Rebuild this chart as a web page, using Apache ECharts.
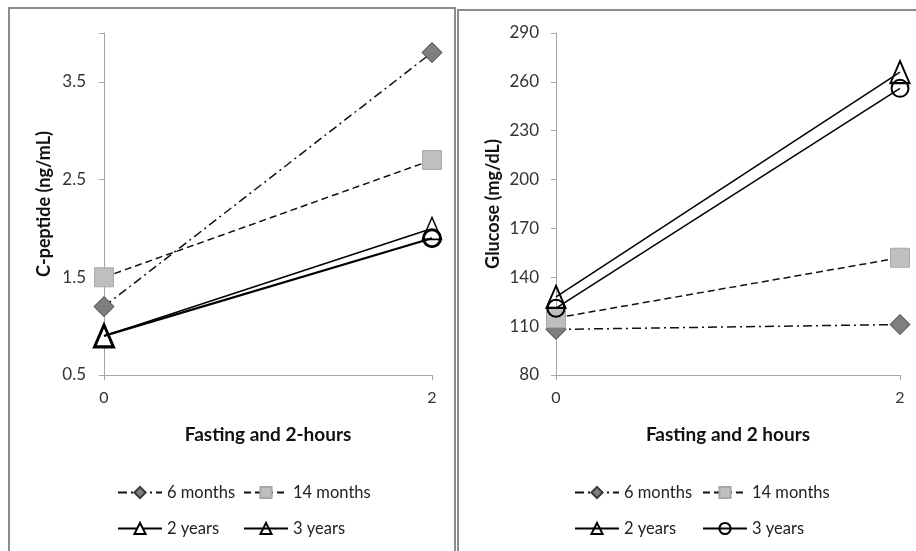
<!DOCTYPE html>
<html>
<head>
<meta charset="utf-8">
<script src="https://cdn.jsdelivr.net/npm/echarts@6/dist/echarts.min.js"></script>
<style>
html,body{margin:0;padding:0;width:916px;height:551px;overflow:hidden;background:#fff;}
.c{position:absolute;left:0;top:0;width:916px;height:551px;}
</style>
</head>
<body>
<div id="c1" class="c"></div>
<div id="c2" class="c"></div>
<script>
// ---- data ----
const timePoints = [0, 2];
const seriesNames = ['6 months', '14 months', '2 years', '3 years'];
const cpep6m  = [1.2, 3.8];
const cpep14m = [1.5, 2.7];
const cpep2y  = [0.9, 2.0];
const cpep3y  = [0.9, 1.9];
const glu6m  = [108, 111];
const glu14m = [115, 152];
const glu2y  = [128, 266];
const glu3y  = [121, 256];
const cpepTicks = [0.5, 1.5, 2.5, 3.5];
const gluTicks = [80, 110, 140, 170, 200, 230, 260, 290];

const FONT = 'Lato, "Open Sans", sans-serif';
const pts = (ys) => timePoints.map((x, i) => [x, ys[i]]);

function xAxisCfg(name) {
  return {
    type: 'value', min: 0, max: 2, interval: 2, name: name,
    nameLocation: 'middle', nameGap: 50,
    nameTextStyle: {fontFamily: FONT, fontSize: 19, fontWeight: 'bold', color: '#111'},
    axisLine: {lineStyle: {color: '#a6a6a6', width: 1}},
    axisTick: {show: true, length: 5, lineStyle: {color: '#a6a6a6'}},
    axisLabel: {fontFamily: FONT, fontSize: 16, color: '#333', margin: 15},
    splitLine: {show: false}
  };
}
function yAxisCfg(name, min, max, interval, gap, ticks, margin) {
  return {
    type: 'value', min: min, max: max, interval: interval, name: name,
    nameLocation: 'middle', nameGap: gap, nameRotate: 90,
    nameTextStyle: {fontFamily: FONT, fontSize: 18, fontWeight: 'bold', color: '#111'},
    axisLine: {show: true, lineStyle: {color: '#a6a6a6', width: 1}},
    axisTick: {show: true, length: 5, lineStyle: {color: '#a6a6a6'}},
    axisLabel: {fontFamily: FONT, fontSize: 17, color: '#333', margin: margin,
      formatter: (v) => {
        const hit = ticks.find(t => Math.abs(t - v) < 1e-9);
        return hit === undefined ? '' : (interval < 5 ? hit.toFixed(1) : String(hit));
      }},
    splitLine: {show: false}
  };
}
function legendCfg(name, left, top) {
  return {
    data: [name], left: left, top: top, itemWidth: 44, itemHeight: 14, itemGap: 0,
    selectedMode: false,
    textStyle: {fontFamily: FONT, fontSize: 16.5, color: '#222'}
  };
}
const dashDot = [9, 4, 2, 4];
const dash = [7, 4];

function s6(data) {
  return {name: seriesNames[0], type: 'line', data: pts(data), symbol: 'diamond', symbolSize: 20,
    itemStyle: {color: '#7f7f7f', borderColor: '#3a3a3a', borderWidth: 1},
    lineStyle: {color: '#111', width: 1.5, type: dashDot}, z: 2};
}
function s14(data) {
  return {name: seriesNames[1], type: 'line', data: pts(data), symbol: 'rect', symbolSize: 19,
    itemStyle: {color: '#bfbfbf', borderColor: '#a8a8a8', borderWidth: 1},
    lineStyle: {color: '#111', width: 1.5, type: dash}, z: 3};
}

// ---- left chart: C-peptide ----
const c1 = echarts.init(document.getElementById('c1'), null, {renderer: 'canvas'});
c1.setOption({
  backgroundColor: '#fff',
  animation: false,
  graphic: [
    {type: 'rect', shape: {x: 9, y: 8, width: 446, height: 560}, style: {fill: 'none', stroke: '#8c8c8c', lineWidth: 2}},
    {type: 'rect', shape: {x: 458, y: 10, width: 470, height: 560}, style: {fill: 'none', stroke: '#8c8c8c', lineWidth: 2}}
  ],
  grid: {left: 104, right: 484, top: 33, bottom: 176},
  xAxis: xAxisCfg('Fasting and 2-hours'),
  yAxis: yAxisCfg('C-peptide (ng/mL)', 0.5, 4, 1, 51, cpepTicks, 18),
  legend: [
    legendCfg('6 months', 112, 479),
    legendCfg('14 months', 238, 479),
    legendCfg('2 years', 112, 515),
    legendCfg('3 years', 238, 515)
  ],
  series: [
    s6(cpep6m),
    s14(cpep14m),
    {name: seriesNames[2], type: 'line', data: pts(cpep2y), symbol: 'triangle', symbolSize: [19, 22],
      itemStyle: {color: '#fff', borderColor: '#000', borderWidth: 1.5},
      lineStyle: {color: '#000', width: 1.5, type: 'solid'}, z: 4},
    {name: seriesNames[3], type: 'line', symbol: 'triangle', symbolSize: [19, 22],
      data: [
        {value: [timePoints[0], cpep3y[0]], symbol: 'triangle', symbolSize: [19, 22]},
        {value: [timePoints[1], cpep3y[1]], symbol: 'circle', symbolSize: 17}
      ],
      itemStyle: {color: 'rgba(255,255,255,0)', borderColor: '#000', borderWidth: 3},
      lineStyle: {color: '#000', width: 2.2, type: 'solid'}, z: 5}
  ]
});

// ---- right chart: Glucose ----
const c2 = echarts.init(document.getElementById('c2'), null, {renderer: 'canvas'});
c2.setOption({
  backgroundColor: 'transparent',
  animation: false,
  grid: {left: 556, right: 16, top: 33, bottom: 176},
  xAxis: xAxisCfg('Fasting and 2 hours'),
  yAxis: yAxisCfg('Glucose (mg/dL)', 80, 290, 30, 54, gluTicks, 17),
  legend: [
    legendCfg('6 months', 569, 479),
    legendCfg('14 months', 697, 479),
    legendCfg('2 years', 569, 515),
    legendCfg('3 years', 697, 515)
  ],
  series: [
    s6(glu6m),
    s14(glu14m),
    {name: seriesNames[2], type: 'line', data: pts(glu2y), symbol: 'triangle', symbolSize: [19, 22],
      itemStyle: {color: 'rgba(255,255,255,0)', borderColor: '#000', borderWidth: 2},
      lineStyle: {color: '#000', width: 1.5, type: 'solid'}, z: 4},
    {name: seriesNames[3], type: 'line', data: pts(glu3y), symbol: 'circle', symbolSize: 17,
      itemStyle: {color: 'rgba(255,255,255,0)', borderColor: '#000', borderWidth: 2},
      lineStyle: {color: '#000', width: 1.5, type: 'solid'}, z: 5}
  ]
});
</script>
</body>
</html>
